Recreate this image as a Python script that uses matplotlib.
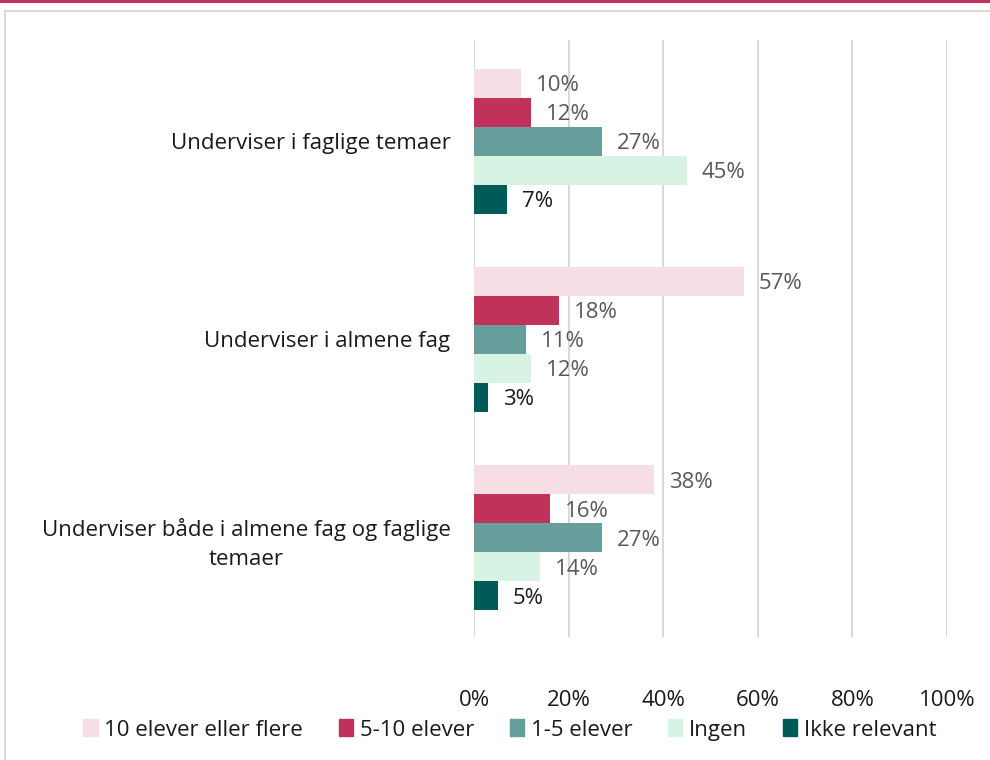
import matplotlib.pyplot as plt
from matplotlib.patches import Rectangle, Patch
from matplotlib.lines import Line2D
import numpy as np

plt.rcParams['font.family'] = ['Open Sans', 'DejaVu Sans']

categories = ['Underviser i faglige temaer',
              'Underviser i almene fag',
              'Underviser både i almene fag og faglige\ntemaer']
series = ['10 elever eller flere', '5-10 elever', '1-5 elever', 'Ingen', 'Ikke relevant']
values = [
    [10, 57, 38],   # 10 elever eller flere
    [12, 18, 16],   # 5-10 elever
    [27, 11, 27],   # 1-5 elever
    [45, 12, 14],   # Ingen
    [7, 3, 5],      # Ikke relevant
]
colors = ['#f5dfe5', '#c0325a', '#669e9b', '#d7f3e3', '#005a57']
label_colors = ['#595959', '#595959', '#595959', '#595959', '#1a1a1a']

fig = plt.figure(figsize=(9.9, 7.6), dpi=100)
ax = fig.add_axes([474/990, 1-637/760, (947-474)/990, (637-40)/760])

# frame and top accent line
fig.add_artist(Rectangle((4.5/990, -0.1), 1.2, 1-11/760+0.1, transform=fig.transFigure,
                         fill=False, edgecolor='#d9d9d9', lw=1.5))
fig.add_artist(Line2D([0, 1], [1-1/760, 1-1/760], transform=fig.transFigure,
                      color='#c0325a', lw=2.2))

h = 0.1465
y = np.arange(len(categories))
for i, (s, vals) in enumerate(zip(series, values)):
    pos = y + (i - 2) * h
    ax.barh(pos, vals, height=h, color=colors[i], label=s, zorder=3)
    for p, v in zip(pos, vals):
        ax.text(v + 3.2, p + 0.012, f'{v}%', va='center', ha='left',
                fontsize=16, color=label_colors[i], zorder=4)

ax.set_xlim(0, 100)
ax.set_ylim(2.5, -0.51)
ax.set_xticks(np.arange(0, 101, 20))
ax.set_xticklabels([f'{t}%' for t in range(0, 101, 20)], fontsize=16, color='#1a1a1a')
ax.set_yticks(y)
ax.set_yticklabels(categories, fontsize=16, color='#1a1a1a')
for lab in ax.get_yticklabels():
    lab.set_multialignment('center')
    lab.set_linespacing(1.45)
ax.tick_params(axis='both', length=0)
ax.tick_params(axis='x', pad=38)
ax.tick_params(axis='y', pad=17)
ax.grid(axis='x', color='#d9d9d9', lw=1.5, zorder=0)
for sp in ax.spines.values():
    sp.set_visible(False)

fig.legend(handles=[Patch(color=c, label=s) for c, s in zip(colors, series)],
           loc='center', bbox_to_anchor=(0.515, 1-730/760), ncol=5, frameon=False,
           fontsize=16, handlelength=0.65, handleheight=0.8, handletextpad=0.3,
           columnspacing=1.6, labelcolor='#1a1a1a')

fig.savefig('out.png', dpi=100)
